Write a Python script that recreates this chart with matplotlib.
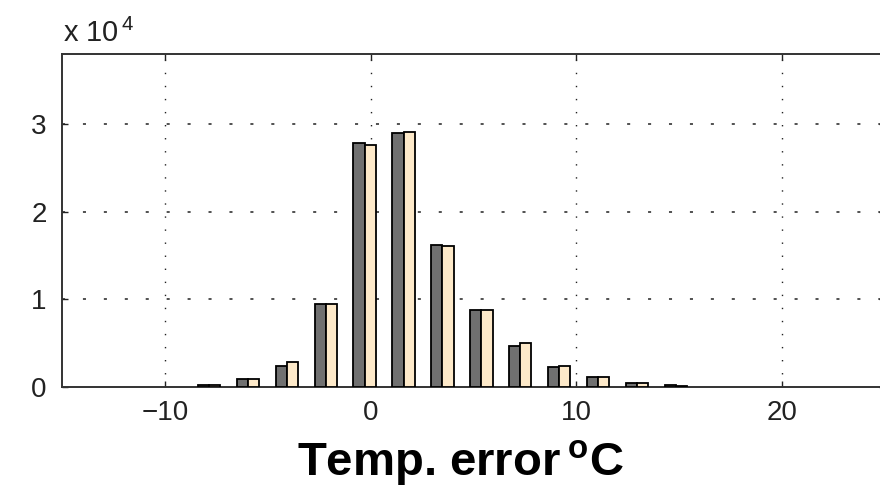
import matplotlib
matplotlib.use("Agg")
import matplotlib.pyplot as plt
from matplotlib.ticker import FuncFormatter

plt.rcParams['font.family'] = ['Liberation Sans', 'DejaVu Sans']
plt.rcParams['mathtext.fontset'] = 'custom'
plt.rcParams['mathtext.rm'] = 'Liberation Sans'
plt.rcParams['mathtext.bf'] = 'Liberation Sans:bold'

# histogram bin centres (deg C) and counts for the two error series
bin_centers = [-7.85, -5.96, -4.07, -2.18, -0.29, 1.60, 3.49, 5.38, 7.27, 9.16, 11.05, 12.94, 14.83]
counts_a = [200, 900, 2450, 9450, 27800, 28950, 16250, 8750, 4650, 2250, 1100, 450, 200]
counts_b = [200, 900, 2900, 9450, 27650, 29150, 16050, 8750, 5050, 2450, 1100, 450, 150]

x_ticks = [-10, 0, 10, 20]
y_ticks = [0, 10000, 20000, 30000]

bar_w = 0.545

fig = plt.figure(figsize=(8.8, 4.88), dpi=100)
ax = fig.add_axes([62 / 880, 101 / 488, 823 / 880, 333 / 488])

ax.bar(bin_centers, counts_a, width=bar_w, align='edge',
       color='#707070', edgecolor='black', linewidth=1.3, zorder=3)
ax.bar(bin_centers, counts_b, width=bar_w, align='edge',
       color='#fde9c9', edgecolor='black', linewidth=1.3, zorder=3)
# shift first series to the left half of each group
for p in ax.patches[:len(counts_a)]:
    p.set_x(p.get_x() - bar_w)

ax.set_xlim(-15, 25)
ax.set_ylim(0, 38000)
ax.set_xticks(x_ticks)
ax.set_yticks(y_ticks)
ax.yaxis.set_major_formatter(FuncFormatter(lambda v, pos: f"{v / 1e4:g}"))

ax.tick_params(direction='in', length=4, width=1, top=True, right=True,
               labelsize=20, colors='#222222', pad=9)
ax.tick_params(axis='y', pad=11)
for s in ax.spines.values():
    s.set_linewidth(1.4)
    s.set_color('#333333')

# dotted grid, matlab style
for x in x_ticks:
    ax.axvline(x, color='#222222', linewidth=1.0, linestyle=(0, (1, 8.4)), zorder=1)
for y in y_ticks[1:]:
    ax.axhline(y, color='#222222', linewidth=1.1, linestyle=(0, (2, 11.7)), zorder=1)

fig.text(63 / 880, (488 - 42) / 488, r"x 10$^{\,4}$", fontsize=21, va='baseline', color='#222222')

ax.set_xlabel(r"Temp. error$\,^{\mathbf{o}}$C", fontsize=34, fontweight='bold')
ax.xaxis.set_label_coords(0.484, -0.267)
ax.xaxis.label.set_va('baseline')

fig.savefig("out.png", dpi=100)
